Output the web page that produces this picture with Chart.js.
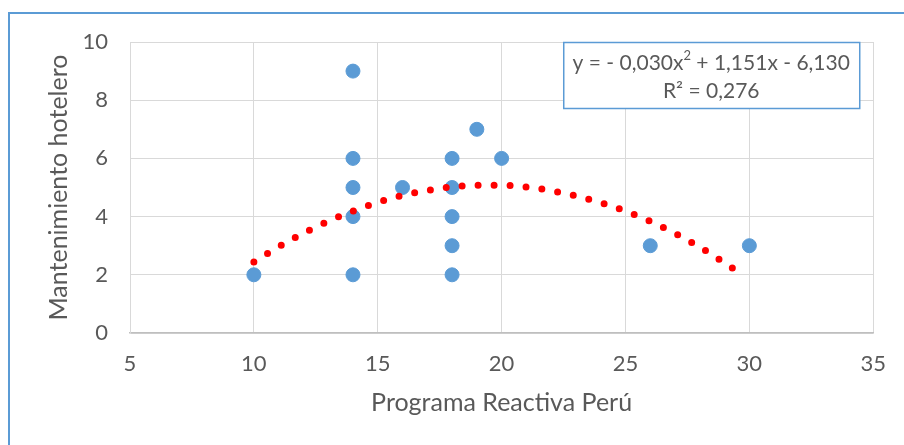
<!DOCTYPE html>
<html>
<head>
<meta charset="utf-8">
<script src="https://cdn.jsdelivr.net/npm/chart.js@4"></script>
<style>
    html, body { margin: 0; padding: 0; background: #fff; overflow: hidden; }
    #wrap { position: relative; width: 904px; height: 445px; }
    #frame { position: absolute; left: 8px; top: 12px; width: 1000px; height: 1000px; border: 2px solid #5b9bd5; }
    #stockChart { position: absolute; left: 0; top: 0; }
</style>
</head>
<body>
<div id="wrap">
    <div id="frame"></div>
    <canvas id="stockChart" width="904" height="445"></canvas>
</div>
<script>
// datos
const programa = [10, 14, 14, 14, 14, 14, 16, 18, 18, 18, 18, 18, 19, 20, 26, 30];
const mantenimiento = [2, 9, 6, 5, 4, 2, 5, 6, 5, 4, 3, 2, 7, 6, 3, 3];

const trendX = [10, 11, 12, 13, 14, 15, 16, 17, 18, 19, 20, 21, 22, 23, 24, 25, 26, 27, 28, 29, 29.5];
const trendY = [2.44, 2.96, 3.43, 3.84, 4.19, 4.49, 4.73, 4.9, 5.02, 5.08, 5.08, 5.02, 4.89, 4.71, 4.48, 4.19, 3.84, 3.42, 2.95, 2.41, 2.12];

const eqParts = ["y = - 0,030x", "2", " + 1,151x - 6,130"];
const eqR2 = "R² = 0,276";

const xTitle = "Programa Reactiva Perú";
const yTitle = "Mantenimiento hotelero";

const gray = "#595959";
const fontFamily = "Lato, 'Open Sans', sans-serif";

const equationBox = {
    id: "equationBox",
    afterDraw(chart) {
        const ctx = chart.ctx;
        const area = chart.chartArea;
        const w = 296, h = 66;
        const x = area.right - 14 - w;
        const y = area.top;
        ctx.save();
        ctx.fillStyle = "#fff";
        ctx.fillRect(x, y, w, h);
        ctx.strokeStyle = "#5b9bd5";
        ctx.lineWidth = 1.5;
        ctx.strokeRect(x + 0.5, y + 0.5, w, h);

        ctx.fillStyle = gray;
        ctx.textBaseline = "middle";
        const big = "21px " + fontFamily;
        const small = "13px " + fontFamily;
        ctx.font = big;
        const w1 = ctx.measureText(eqParts[0]).width;
        const w3 = ctx.measureText(eqParts[2]).width;
        ctx.font = small;
        const w2 = ctx.measureText(eqParts[1]).width;
        let cx = x + w / 2 - (w1 + w2 + w3) / 2;
        ctx.textAlign = "left";
        ctx.font = big;
        ctx.fillText(eqParts[0], cx, y + 21);
        cx += w1;
        ctx.font = small;
        ctx.fillText(eqParts[1], cx, y + 14);
        cx += w2;
        ctx.font = big;
        ctx.fillText(eqParts[2], cx, y + 21);

        ctx.textAlign = "center";
        ctx.fillText(eqR2, x + w / 2, y + 49);
        ctx.restore();
    },
};

const ctx = document.getElementById("stockChart");

new Chart(ctx, {
    type: "scatter",
    data: {
        datasets: [
            {
                type: "line",
                label: "Polinómica",
                data: trendX.map((x, i) => ({ x: x, y: trendY[i] })),
                borderColor: "#ff0000",
                borderWidth: 7,
                borderDash: [0, 16],
                borderCapStyle: "round",
                cubicInterpolationMode: "monotone",
                pointRadius: 0,
                fill: false,
                order: 0,
            },
            {
                label: "Mantenimiento hotelero",
                data: programa.map((x, i) => ({ x: x, y: mantenimiento[i] })),
                backgroundColor: "#5b9bd5",
                borderColor: "#5b9bd5",
                borderWidth: 1,
                pointRadius: 7,
                order: 1,
            },
        ],
    },
    options: {
        responsive: false,
        animation: false,
        layout: {
            padding: { top: 42, right: 29, left: 0, bottom: 0 },
        },
        plugins: {
            legend: { display: false },
            tooltip: { enabled: false },
        },
        scales: {
            x: {
                type: "linear",
                min: 5,
                max: 35,
                afterFit: (scale) => { scale.height = 112; },
                grid: { color: "#d9d9d9", lineWidth: 1, drawTicks: false },
                border: { color: "#bfbfbf", width: 1.5 },
                ticks: {
                    stepSize: 5,
                    padding: 18,
                    color: gray,
                    font: { family: fontFamily, size: 22 },
                },
                title: {
                    display: true,
                    text: xTitle,
                    color: gray,
                    font: { family: fontFamily, size: 25 },
                    padding: { top: 0, bottom: 27 },
                },
            },
            y: {
                min: 0,
                max: 10,
                afterFit: (scale) => { scale.width = 130; },
                grid: { color: "#d9d9d9", lineWidth: 1, drawTicks: false },
                border: { color: "#d9d9d9", width: 1 },
                ticks: {
                    stepSize: 2,
                    padding: 22,
                    color: gray,
                    font: { family: fontFamily, size: 22 },
                },
                title: {
                    display: true,
                    text: yTitle,
                    color: gray,
                    font: { family: fontFamily, size: 25 },
                    padding: { top: 44, bottom: 0 },
                },
            },
        },
    },
    plugins: [equationBox],
});
</script>
</body>
</html>
